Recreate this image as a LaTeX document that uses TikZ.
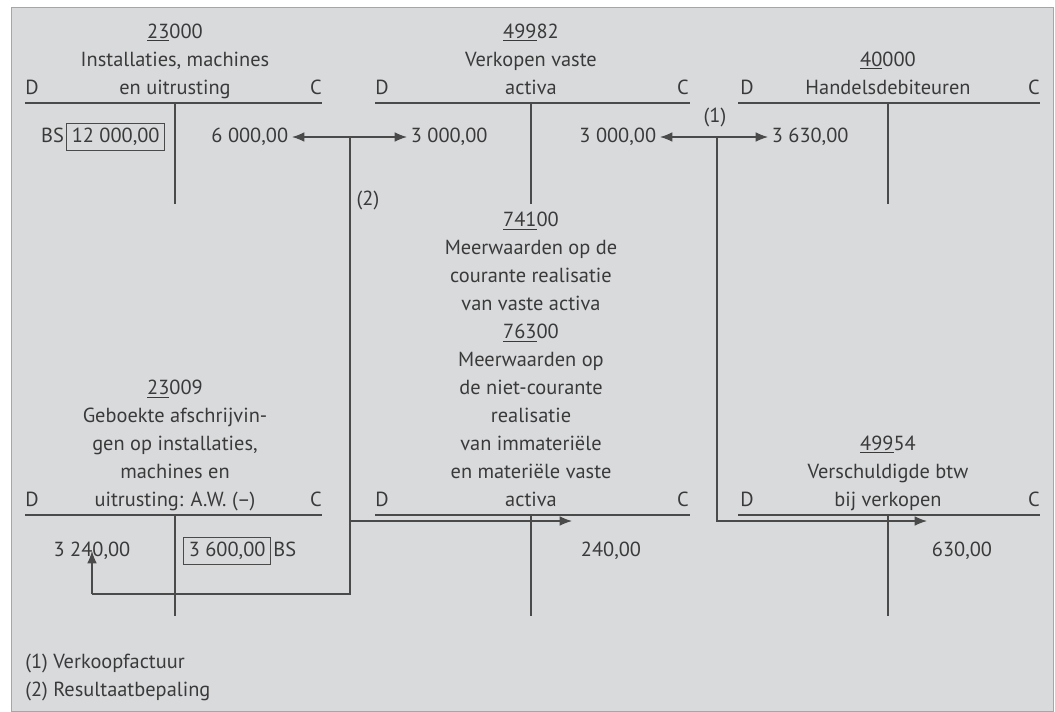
\documentclass[tikz,border=0pt]{standalone}
\usepackage{fontspec}
\setmainfont{PT Sans}
\usetikzlibrary{arrows.meta, positioning}
\definecolor{tbg}{HTML}{D9DADC}
\definecolor{tink}{HTML}{3A3A3A}
\definecolor{tline}{HTML}{4A4A4A}

\begin{document}
\begin{tikzpicture}[x=0.02cm, y=-0.02cm,
  every node/.style={font=\fontsize{11.6}{15.9}\selectfont, text=tink},
  ttl/.style={align=center, inner sep=0pt, anchor=base},
  side/.style={inner sep=0pt},
  amt/.style={inner sep=2pt, text height=1.55ex, text depth=0.35ex},
  bsbox/.style={amt, draw=tline, line width=0.6pt, inner sep=3pt},
  tacc/.style={draw=tline, line width=0.8pt},
  conn/.style={draw=tline, line width=0.7pt},
  arr/.style={conn, -{Latex[length=7pt, width=5.5pt]}},
]
\useasboundingbox (0,0) rectangle (1055,711);
\fill[white] (0,0) rectangle (1055,711);
\filldraw[fill=tbg, draw=gray!70] (11,7) rectangle (1053,711);

% top row
\node[ttl] (t23000) at (175,94) {\underline{23}000\\Installaties, machines\\en uitrusting};
\node[side, anchor=base west] (d23000) at (25,94) {D};
\node[side, anchor=base east] (c23000) at (322,94) {C};
\draw[tacc] (25,103) -- (322,103);
\draw[tacc] (175,103) -- (175,204);

\node[ttl] (t49982) at (531,94) {\underline{499}82\\Verkopen vaste\\activa};
\node[side, anchor=base west] (d49982) at (375,94) {D};
\node[side, anchor=base east] (c49982) at (689,94) {C};
\draw[tacc] (375,103) -- (690,103);
\draw[tacc] (531,103) -- (531,204);

\node[ttl] (t40000) at (888,94) {\underline{40}000\\Handelsdebiteuren};
\node[side, anchor=base west] (d40000) at (740,94) {D};
\node[side, anchor=base east] (c40000) at (1040,94) {C};
\draw[tacc] (738,103) -- (1040,103);
\draw[tacc] (888,103) -- (888,204);

\node[bsbox, anchor=west] (v12000) at (66,137) {12 000,00};
\node[amt, anchor=east, inner sep=1pt] (bs1) at (v12000.west) {BS};
\node[amt, anchor=east] (v6000) at (292,137) {6 000,00};
\node[amt, anchor=west] (v3000a) at (407,137) {3 000,00};
\node[amt, anchor=east] (v3000b) at (660,137) {3 000,00};
\node[amt, anchor=west] (v3630) at (768,137) {3 630,00};

% bottom row
\node[ttl] (t23009) at (175,506) {\underline{23}009\\Geboekte afschrijvin-\\gen op installaties,\\machines en\\uitrusting: A.W. (--)};
\node[side, anchor=base west] (d23009) at (25,506) {D};
\node[side, anchor=base east] (c23009) at (322,506) {C};
\draw[tacc] (25,515) -- (322,515);
\draw[tacc] (175,515) -- (175,616);

\node[ttl] (t74100) at (531,506) {\underline{741}00\\Meerwaarden op de\\courante realisatie\\van vaste activa\\\underline{763}00\\Meerwaarden op\\de niet-courante\\realisatie\\van immateriële\\en materiële vaste\\activa};
\node[side, anchor=base west] (d76300) at (375,506) {D};
\node[side, anchor=base east] (c76300) at (689,506) {C};
\draw[tacc] (375,515) -- (690,515);
\draw[tacc] (531,515) -- (531,616);

\node[ttl] (t49954) at (888,506) {\underline{499}54\\Verschuldigde btw\\bij verkopen};
\node[side, anchor=base west] (d49954) at (740,506) {D};
\node[side, anchor=base east] (c49954) at (1040,506) {C};
\draw[tacc] (738,515) -- (1040,515);
\draw[tacc] (888,515) -- (888,616);

\node[amt] (v3240) at (92,551) {3 240,00};
\node[bsbox, anchor=west] (v3600) at (183,551) {3 600,00};
\node[amt, anchor=west, inner sep=1pt] (bs2) at (v3600.east) {BS};
\node[amt] (v240) at (611,551) {240,00};
\node[amt] (v630) at (962,551) {630,00};

% connectors
\coordinate (j2) at (350,137);
\coordinate (k2) at (350,521);
\coordinate (k2b) at (350,594);
\coordinate (k2l) at (92,594);
\coordinate (t76) at (572,521);
\coordinate (j1) at (717,137);
\coordinate (k1) at (717,521);
\coordinate (t49) at (927,521);

\draw[arr] (j2) -- (v6000);
\draw[arr] (j2) -- (v3000a);
\draw[conn] (j2) -- (k2b) -- (k2l);
\draw[arr] (k2l) -- (v3240.center);
\draw[arr] (k2) -- (t76);
\draw[arr] (j1) -- (v3000b);
\draw[arr] (j1) -- (v3630);
\draw[arr] (j1) -- (k1) -- (t49);

\node (l2) at (368,200) {(2)};
\node (l1) at (715,117) {(1)};

% legend
\node[anchor=base west, inner sep=0pt] (n1) at (25,668) {(1) Verkoopfactuur};
\node[anchor=base west, inner sep=0pt] (n2) at (25,696) {(2) Resultaatbepaling};
\end{tikzpicture}
\end{document}
